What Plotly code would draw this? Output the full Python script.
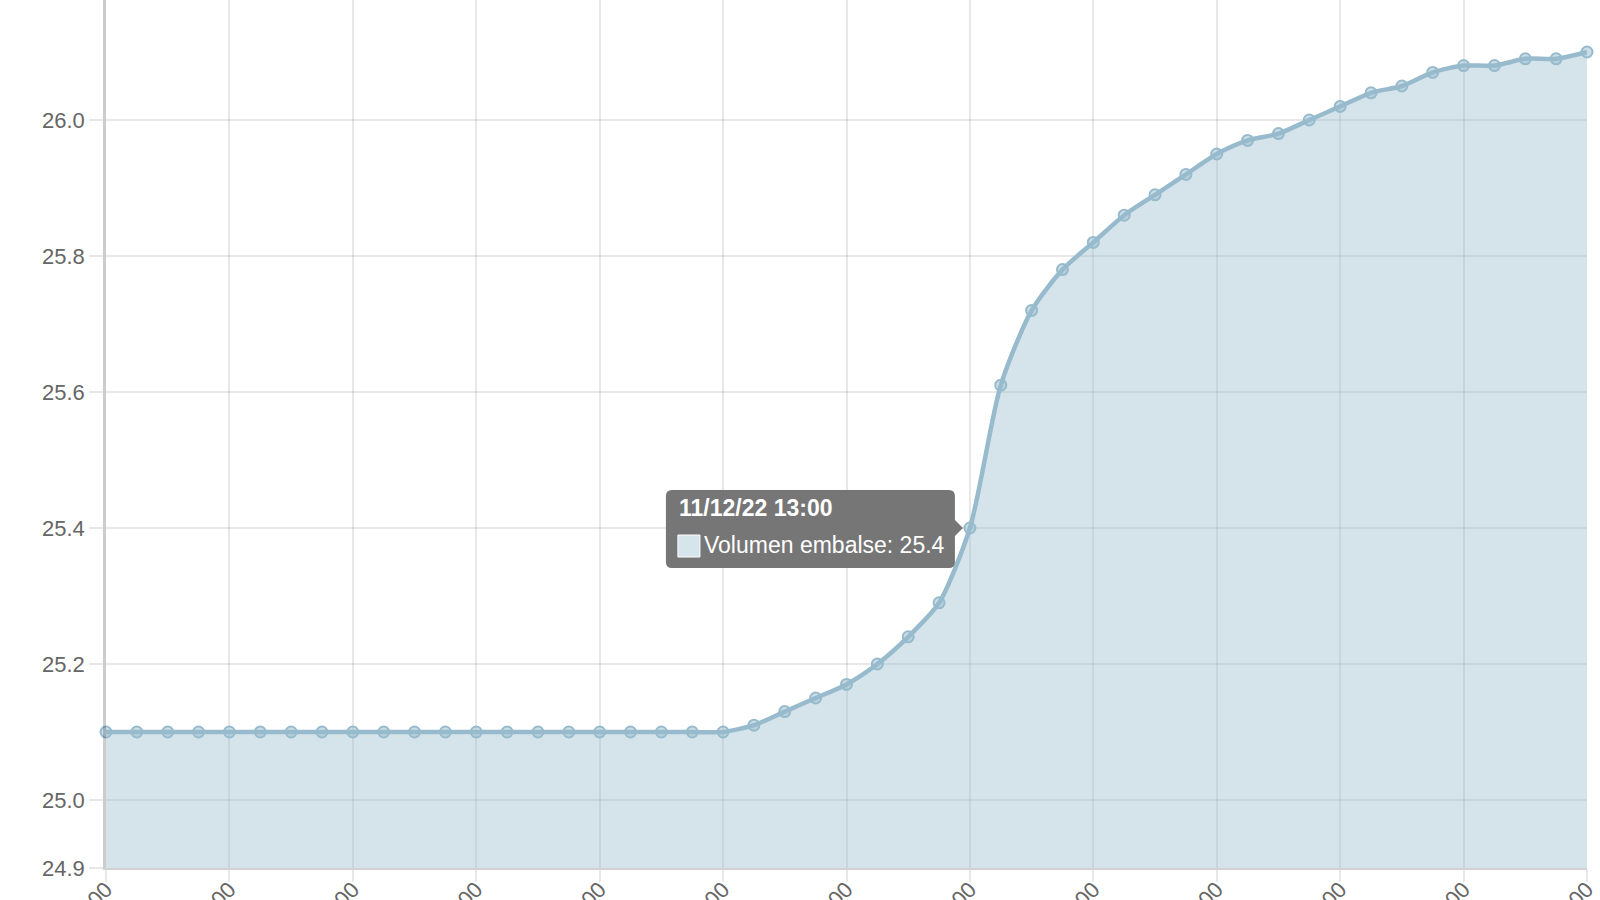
import pandas as pd
import plotly.graph_objects as go

# ---- data ----
times = pd.date_range("2022-12-10 09:00", periods=49, freq="h")
time_labels = [t.strftime("%d/%m/%y %H:%M") for t in times]

volumen = [25.10, 25.10, 25.10, 25.10, 25.10, 25.10, 25.10, 25.10, 25.10, 25.10,
           25.10, 25.10, 25.10, 25.10, 25.10, 25.10, 25.10, 25.10, 25.10, 25.10,
           25.10, 25.11, 25.13, 25.15, 25.17, 25.20, 25.24, 25.29, 25.40, 25.61,
           25.72, 25.78, 25.82, 25.86, 25.89, 25.92, 25.95, 25.97, 25.98, 26.00,
           26.02, 26.04, 26.05, 26.07, 26.08, 26.08, 26.09, 26.09, 26.10]

series_name = "Volumen embalse"
x_tick_labels = time_labels[::4]
y_tick_values = [24.9, 25.0, 25.2, 25.4, 25.6, 25.8, 26.0]
y_tick_labels = [f"{v:.1f}" for v in y_tick_values]
tooltip_index = 28

LINE = "rgb(151,187,205)"
FILL = "rgba(151,187,205,0.4)"
GRID = "rgba(0,0,0,0.09)"
FONT = "Liberation Sans, Arial, sans-serif"

fig = go.Figure()
fig.add_trace(go.Scatter(
    x=time_labels, y=volumen, name=series_name,
    mode="lines+markers",
    line=dict(color=LINE, width=4.5, shape="spline", smoothing=0.7),
    marker=dict(size=11, color="rgba(151,187,205,0.5)", line=dict(color=LINE, width=2)),
    fill="tozeroy", fillcolor=FILL,
    cliponaxis=False,
    hoverinfo="skip",
))

# tooltip box (pixel sized, anchored on the hovered point)
tx = time_labels[tooltip_index]
ty = volumen[tooltip_index]
box_path = ("M -298,38 L -21,38 Q -15,38 -15,32 L -15,8 L -7,0 L -15,-8 L -15,-34 "
            "Q -15,-40 -21,-40 L -298,-40 Q -304,-40 -304,-34 L -304,32 Q -304,38 -298,38 Z")
fig.add_shape(type="path", xref="x", yref="y", xsizemode="pixel", ysizemode="pixel",
              xanchor=tx, yanchor=ty, path=box_path,
              fillcolor="rgb(118,118,118)", line=dict(width=0), layer="above")
fig.add_shape(type="rect", xref="x", yref="y", xsizemode="pixel", ysizemode="pixel",
              xanchor=tx, yanchor=ty, x0=-292, x1=-270, y0=-29, y1=-7,
              fillcolor="rgb(214,228,236)", line=dict(color="white", width=1), layer="above")
fig.add_annotation(x=tx, y=ty, xref="x", yref="y", xanchor="left", yanchor="middle",
                   xshift=-293, yshift=20, showarrow=False,
                   text=f"<b>{pd.Timestamp(times[tooltip_index]).strftime('%d/%m/%y %H:%M')}</b>",
                   font=dict(family=FONT, size=23, color="white"))
fig.add_annotation(x=tx, y=ty, xref="x", yref="y", xanchor="left", yanchor="middle",
                   xshift=-268, yshift=-17, showarrow=False,
                   text=f"{series_name}: {ty:.1f}",
                   font=dict(family=FONT, size=23, color="white"))

fig.update_layout(
    width=1600, height=900,
    margin=dict(l=106, r=13, t=0, b=32),
    paper_bgcolor="white", plot_bgcolor="white",
    showlegend=False,
    font=dict(family=FONT, size=22, color="#666666"),
    hovermode=False,
)
fig.update_xaxes(
    type="category", range=[0, len(time_labels) - 1],
    tickmode="array", tickvals=x_tick_labels, ticktext=x_tick_labels,
    tickangle=-45, ticks="outside", ticklen=12, tickcolor=GRID, tickwidth=1.5,
    ticklabelstandoff=-14,
    showgrid=True, gridcolor=GRID, gridwidth=1.5,
    showline=True, linecolor="rgba(0,0,0,0.18)", linewidth=2,
    automargin=False, zeroline=False,
    tickfont=dict(family=FONT, size=22, color="#666666"),
)
fig.update_yaxes(
    range=[24.9, 24.9 + 868 / 680],
    tickmode="array", tickvals=y_tick_values, ticktext=y_tick_labels,
    ticks="outside", ticklen=14, tickcolor=GRID, tickwidth=1.5,
    showgrid=True, gridcolor=GRID, gridwidth=1.5,
    showline=True, linecolor="rgba(0,0,0,0.2)", linewidth=2.5,
    automargin=False, zeroline=False,
    tickfont=dict(family=FONT, size=22, color="#666666"),
)

fig.write_html("out.html", config={"displayModeBar": False},
               post_script="document.body.style.margin='0';")
